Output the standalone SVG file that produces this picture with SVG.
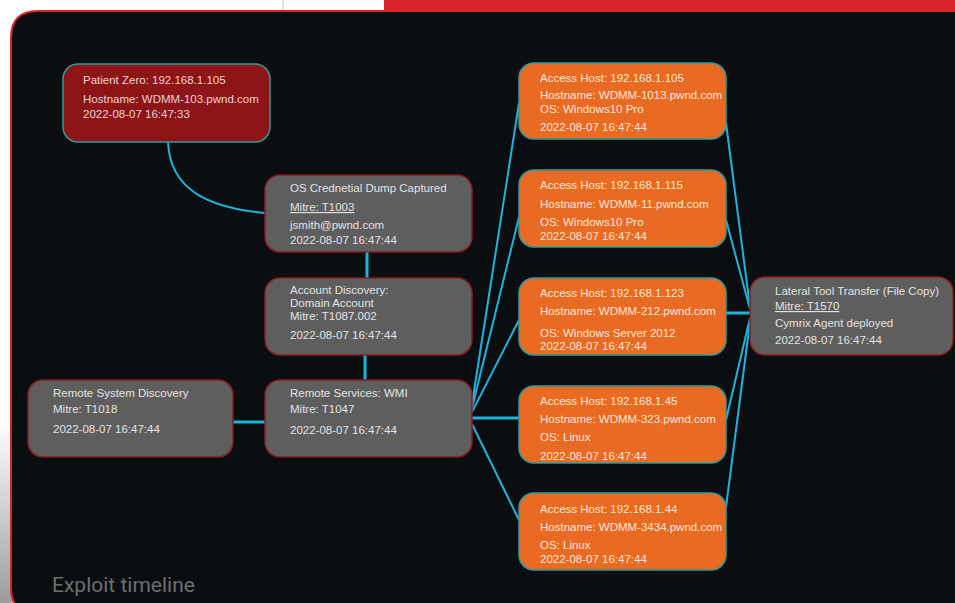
<svg xmlns="http://www.w3.org/2000/svg" width="955" height="603" viewBox="0 0 955 603">
<defs>
<linearGradient id="edge" x1="0" y1="0" x2="0" y2="1">
<stop offset="0" stop-color="#ffffff"/>
<stop offset="0.7" stop-color="#ffffff"/>
<stop offset="1" stop-color="#9c9c9c"/>
</linearGradient>
</defs>
<style>
.t{font-family:"Liberation Sans",Arial,sans-serif;font-size:11.5px;fill:#e2e2e2}
.to{font-family:"Liberation Sans",Arial,sans-serif;font-size:11.5px;fill:#fbe6d6}
.tr{font-family:"Liberation Sans",Arial,sans-serif;font-size:11.5px;fill:#ecd2d2}
.u{text-decoration:underline}
.gray{fill:#5e5e5e;stroke:#8a1c20;stroke-width:1.5}
.orange{fill:#e96a22;stroke:#2f9c9a;stroke-width:1.5}
.red{fill:#8d1518;stroke:#2f9c9a;stroke-width:1.5}
.c{fill:none;stroke:#1cb4dc;stroke-width:2}
.c3{fill:none;stroke:#1cb4dc;stroke-width:3}
</style>
<rect x="0" y="0" width="955" height="603" fill="#ffffff"/>
<rect x="0" y="0" width="12" height="603" fill="url(#edge)"/>
<line x1="283" y1="0" x2="283" y2="11" stroke="#c4c4c4" stroke-width="1"/>
<rect x="384" y="0" width="571" height="12" fill="#d7232a"/>
<path d="M37,614 Q11,614 11,588 L11,38 Q11,11 38,11 L962,11 L962,614 Z" fill="#0b0e10" stroke="#d7232a" stroke-width="2"/>
<text x="52" y="592" font-family="Roboto,'Liberation Sans',sans-serif" font-size="21" fill="#6e6e6e">Exploit timeline</text>

<g id="connectors">
<path class="c" d="M168,142 C170,192 212,208 265,213"/>
<line class="c3" x1="367" y1="252" x2="367" y2="278"/>
<line class="c3" x1="365" y1="355" x2="365" y2="380"/>
<line class="c3" x1="233" y1="422" x2="265" y2="422"/>
<line class="c" x1="472" y1="404" x2="519" y2="103"/>
<line class="c" x1="472" y1="408" x2="519" y2="217"/>
<line class="c" x1="472" y1="412" x2="519" y2="320"/>
<line class="c3" x1="472" y1="418" x2="519" y2="418"/>
<line class="c" x1="472" y1="424" x2="519" y2="520"/>
<line class="c" x1="726" y1="123" x2="750" y2="307"/>
<line class="c" x1="726" y1="220" x2="750" y2="309"/>
<line class="c3" x1="726" y1="313" x2="750" y2="313"/>
<line class="c" x1="726" y1="420" x2="750" y2="318"/>
<line class="c" x1="726" y1="507" x2="750" y2="322"/>
</g>

<g id="patient-zero">
<rect class="red" x="63" y="64" width="207" height="78" rx="15"/>
<text class="tr" x="83" y="84">Patient Zero: 192.168.1.105</text>
<text class="tr" x="83" y="103">Hostname: WDMM-103.pwnd.com</text>
<text class="tr" x="83" y="118">2022-08-07 16:47:33</text>
</g>

<g id="os-credential-dump">
<rect class="gray" x="265" y="175" width="207" height="77" rx="15"/>
<text class="t" x="290" y="192">OS Crednetial Dump Captured</text>
<text class="t u" x="290" y="211">Mitre: T1003</text>
<text class="t" x="290" y="229">jsmith@pwnd.com</text>
<text class="t" x="290" y="244">2022-08-07 16:47:44</text>
</g>

<g id="account-discovery">
<rect class="gray" x="265" y="278" width="207" height="77" rx="15"/>
<text class="t" x="290" y="294">Account Discovery:</text>
<text class="t" x="290" y="307">Domain Account</text>
<text class="t" x="290" y="320">Mitre: T1087.002</text>
<text class="t" x="290" y="339">2022-08-07 16:47:44</text>
</g>

<g id="remote-system-discovery">
<rect class="gray" x="28" y="380" width="205" height="77" rx="15"/>
<text class="t" x="53" y="397">Remote System Discovery</text>
<text class="t" x="53" y="413">Mitre: T1018</text>
<text class="t" x="53" y="433">2022-08-07 16:47:44</text>
</g>

<g id="remote-services-wmi">
<rect class="gray" x="265" y="380" width="207" height="77" rx="15"/>
<text class="t" x="290" y="397">Remote Services: WMI</text>
<text class="t" x="290" y="413">Mitre: T1047</text>
<text class="t" x="290" y="434">2022-08-07 16:47:44</text>
</g>

<g id="access-host-105">
<rect class="orange" x="519" y="63" width="207" height="76" rx="15"/>
<text class="to" x="540" y="82">Access Host: 192.168.1.105</text>
<text class="to" x="540" y="99">Hostname: WDMM-1013.pwnd.com</text>
<text class="to" x="540" y="113">OS: Windows10 Pro</text>
<text class="to" x="540" y="131">2022-08-07 16:47:44</text>
</g>

<g id="access-host-115">
<rect class="orange" x="519" y="170" width="207" height="77" rx="15"/>
<text class="to" x="540" y="189">Access Host: 192.168.1.115</text>
<text class="to" x="540" y="208">Hostname: WDMM-11.pwnd.com</text>
<text class="to" x="540" y="226">OS: Windows10 Pro</text>
<text class="to" x="540" y="240">2022-08-07 16:47:44</text>
</g>

<g id="access-host-123">
<rect class="orange" x="519" y="278" width="207" height="77" rx="15"/>
<text class="to" x="540" y="297">Access Host: 192.168.1.123</text>
<text class="to" x="540" y="315">Hostname: WDMM-212.pwnd.com</text>
<text class="to" x="540" y="337">OS: Windows Server 2012</text>
<text class="to" x="540" y="350">2022-08-07 16:47:44</text>
</g>

<g id="access-host-45">
<rect class="orange" x="519" y="386" width="207" height="77" rx="15"/>
<text class="to" x="540" y="405">Access Host: 192.168.1.45</text>
<text class="to" x="540" y="423">Hostname: WDMM-323.pwnd.com</text>
<text class="to" x="540" y="441">OS: Linux</text>
<text class="to" x="540" y="460">2022-08-07 16:47:44</text>
</g>

<g id="access-host-44">
<rect class="orange" x="519" y="493" width="207" height="77" rx="15"/>
<text class="to" x="540" y="513">Access Host: 192.168.1.44</text>
<text class="to" x="540" y="531">Hostname: WDMM-3434.pwnd.com</text>
<text class="to" x="540" y="549">OS: Linux</text>
<text class="to" x="540" y="563">2022-08-07 16:47:44</text>
</g>

<g id="lateral-tool-transfer">
<rect class="gray" x="750" y="277" width="203" height="78" rx="15"/>
<text class="t" x="775" y="295">Lateral Tool Transfer (File Copy)</text>
<text class="t u" x="775" y="310">Mitre: T1570</text>
<text class="t" x="775" y="327">Cymrix Agent deployed</text>
<text class="t" x="775" y="344">2022-08-07 16:47:44</text>
</g>
</svg>
